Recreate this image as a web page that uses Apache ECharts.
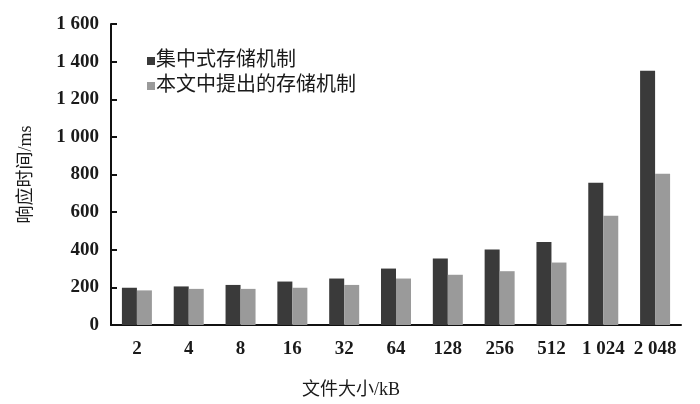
<!DOCTYPE html>
<html>
<head>
<meta charset="utf-8">
<script src="https://cdn.jsdelivr.net/npm/echarts@6/dist/echarts.min.js"></script>
<style>html,body{margin:0;padding:0;background:#fff}#c{width:700px;height:404px}</style>
</head>
<body>
<div id="c"></div>
<script>
const categories = ['2','4','8','16','32','64','128','256','512','1 024','2 048'];
const centralized = [198,205,213,231,247,300,353,401,441,756,1351];
const proposed = [184,192,192,198,213,247,267,286,332,581,804];
const seriesNames = ['集中式存储机制','本文中提出的存储机制'];
const yTicks = {min:0, max:1600, interval:200};

const serif = '"Liberation Serif","DejaVu Serif",serif';
const mixed = '"Liberation Serif","Noto Sans CJK SC",serif';
const chart = echarts.init(document.getElementById('c'));
chart.setOption({
  animation:false,
  backgroundColor:'#fff',
  grid:{left:111,right:19,top:24,bottom:78},
  legend:{
    orient:'vertical', left:142, top:46,
    itemWidth:8, itemHeight:8, itemGap:5,
    icon:'rect',
    textStyle:{fontFamily:mixed, fontSize:20, color:'#1a1a1a', padding:[0,0,0,-4]},
    data:seriesNames
  },
  xAxis:{
    type:'category', data:categories,
    axisLine:{lineStyle:{color:'#111',width:2}},
    axisTick:{inside:true,length:6,lineStyle:{color:'#111',width:2}},
    axisLabel:{fontFamily:serif,fontSize:19,fontWeight:'bold',color:'#1a1a1a',margin:15,interval:0},
    name:'文件大小/kB', nameLocation:'middle', nameGap:56,
    nameTextStyle:{fontFamily:mixed,fontSize:18,color:'#1a1a1a',padding:[0,90,0,0]}
  },
  yAxis:{
    type:'value', min:yTicks.min, max:yTicks.max, interval:yTicks.interval,
    axisLine:{show:true,lineStyle:{color:'#111',width:2}},
    axisTick:{show:true,inside:true,length:6,lineStyle:{color:'#111',width:2}},
    splitLine:{show:false},
    axisLabel:{fontFamily:serif,fontSize:19,fontWeight:'bold',color:'#1a1a1a',margin:12,
      formatter:v=>String(v).replace(/\B(?=(\d{3})+(?!\d))/g,' ')},
    name:'响应时间/ms', nameLocation:'middle', nameGap:76, nameRotate:90,
    nameTextStyle:{fontFamily:mixed,fontSize:18,color:'#1a1a1a'}
  },
  series:[
    {name:seriesNames[0],type:'bar',data:centralized,barWidth:15,barGap:'0%',
     itemStyle:{color:'#3a3a3a'}},
    {name:seriesNames[1],type:'bar',data:proposed,barWidth:15,barGap:'0%',
     itemStyle:{color:'#9a9a9a'}}
  ]
});
</script>
</body>
</html>
